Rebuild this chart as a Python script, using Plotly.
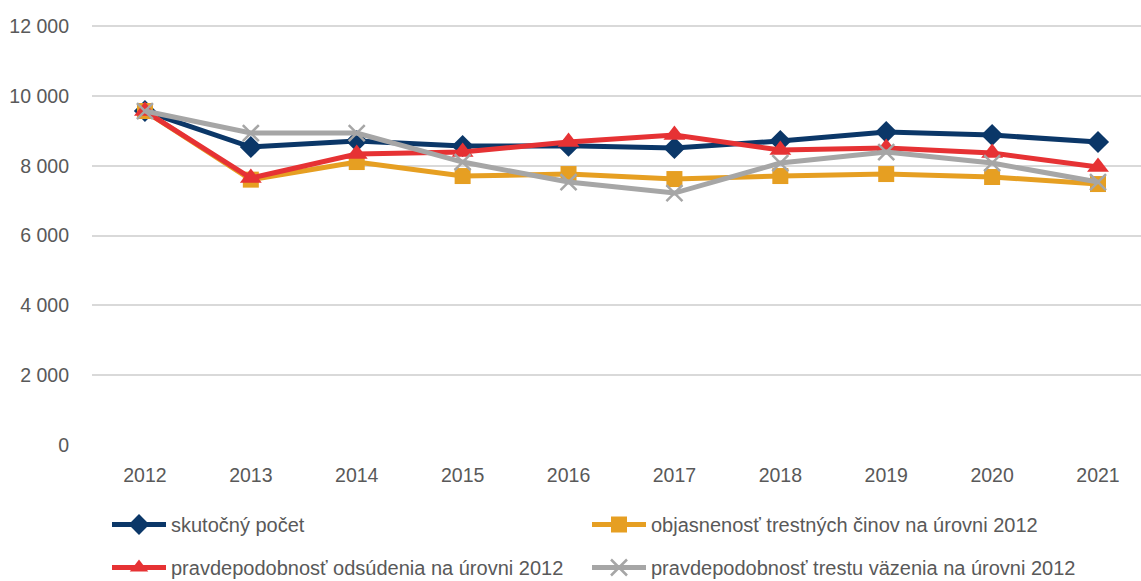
import plotly.graph_objects as go

years = [2012, 2013, 2014, 2015, 2016, 2017, 2018, 2019, 2020, 2021]
skutocny = [9565, 8534, 8706, 8562, 8570, 8505, 8706, 8963, 8877, 8677]
objasnenost = [9565, 7600, 8104, 7703, 7760, 7617, 7703, 7760, 7675, 7474]
odsudenie = [9565, 7646, 8333, 8390, 8677, 8877, 8448, 8505, 8362, 7961]
vazenie = [9565, 8935, 8935, 8104, 7531, 7216, 8075, 8390, 8075, 7531]

names = [
    "skutočný počet",
    "objasnenosť trestných činov na úrovni 2012",
    "pravdepodobnosť odsúdenia na úrovni 2012",
    "pravdepodobnosť trestu väzenia na úrovni 2012",
]
colors = ["#0B3768", "#E69F22", "#E63234", "#A6A6A6"]
symbols = ["diamond", "square", "triangle-up", "x-thin"]
sizes = [17, 16, 19, 16]
legends = ["legend", "legend2", "legend3", "legend4"]
# legend entry placement (container px): left, top
leg_pos = [(107, 505), (587, 505), (107, 548), (587, 548)]

FONT = "Liberation Sans, Arial, sans-serif"

fig = go.Figure()
for vals, name, c, s, sz, lg in zip([skutocny, objasnenost, odsudenie, vazenie], names, colors, symbols, sizes, legends):
    marker = dict(symbol=s, size=sz, color=c)
    if s == "x-thin":
        marker["line"] = dict(color=c, width=2.5)
    fig.add_trace(go.Scatter(
        x=years, y=vals, name=name, mode="lines+markers",
        line=dict(color=c, width=5), marker=marker, legend=lg,
    ))

W, H = 1141, 581
leg_layout = {}
for lg, (lx, ly) in zip(legends, leg_pos):
    leg_layout[lg] = dict(
        orientation="h", xanchor="left", yanchor="top",
        xref="container", yref="container",
        x=lx / W, y=1 - ly / H, itemwidth=54,
        font=dict(family=FONT, size=20, color="#595959"),
        bgcolor="rgba(0,0,0,0)",
    )

fig.update_layout(
    width=W, height=H,
    margin=dict(l=92, r=0, t=25, b=136, autoexpand=False),
    paper_bgcolor="white", plot_bgcolor="white",
    separators=". ",
    font=dict(family=FONT, size=19, color="#595959"),
    showlegend=True,
    **leg_layout,
)
fig.update_xaxes(
    range=[2011.5, 2021.406], tickvals=years, ticktext=[str(y) for y in years],
    showgrid=False, zeroline=False, showline=False, ticks="",
    ticklabelstandoff=16, tickfont=dict(family=FONT, size=19.5, color="#595959"),
    automargin=False,
)
fig.update_yaxes(
    range=[0, 12029], tickvals=[0, 2000, 4000, 6000, 8000, 10000, 12000],
    tickformat=",d",
    showgrid=True, gridcolor="#D9D9D9", gridwidth=1.5, zeroline=False,
    showline=False, ticks="", ticklabelstandoff=22,
    tickfont=dict(family=FONT, size=19.5, color="#595959"),
    automargin=False,
)

fig.write_html("out.html", config={"displayModeBar": False},
               post_script="document.body.style.margin='0';document.body.style.padding='0';")
